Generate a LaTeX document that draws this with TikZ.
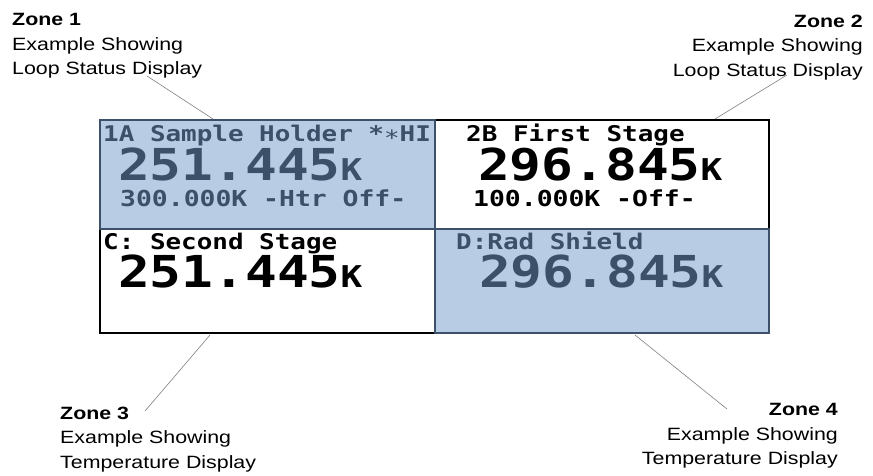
\documentclass[tikz,border=0pt]{standalone}
\usepackage{fontspec}
\setmainfont{Liberation Sans}[FakeStretch=1.2]
\newfontfamily\lcdfont{DejaVu Sans Mono}[FakeStretch=1.2]
\definecolor{lcdblue}{RGB}{184,204,228}
\definecolor{lcdslate}{RGB}{60,80,105}
\tikzset{
	zonefill/.style={fill=lcdblue, draw=lcdslate, line width=1.5pt},
	lcdtitle/.style={anchor=base west, inner sep=0pt, font=\lcdfont\bfseries\fontsize{21.6}{21.6}\selectfont},
	lcdbig/.style={anchor=base west, inner sep=0pt, font=\lcdfont\bfseries\fontsize{44}{44}\selectfont},
	lcdline/.style={anchor=base west, inner sep=0pt, font=\lcdfont\bfseries\fontsize{22}{22}\selectfont},
	callout/.style={inner sep=0pt, font=\fontsize{17.8}{24.5}\selectfont},
	leader/.style={draw=gray, line width=0.6pt}
}
\newcommand{\unitK}{{\fontsize{30}{30}\selectfont K}}

\begin{document}
\begin{tikzpicture}[x=1pt, y=-1pt]
			\useasboundingbox (0,0) rectangle (873,476);

			\draw[line width=2pt] (100,120) rectangle (769,333);
			\draw[zonefill] (100,120) rectangle (435,229);
			\draw[zonefill] (435,229) rectangle (769,333);

			\node[lcdtitle, text=lcdslate] (t1) at (103,142) {1A Sample Holder *{\mdseries ∗}HI};
			\node[lcdbig, text=lcdslate] (v1) at (118,180) {251.445\unitK};
			\node[lcdline, text=lcdslate] (s1) at (120,207) {300.000K -Htr Off-};

			\node[lcdtitle] (t2) at (466,142) {2B First Stage};
			\node[lcdbig] (v2) at (478,180) {296.845\unitK};
			\node[lcdline] (s2) at (473,207) {100.000K -Off-};

			\node[lcdtitle] (t3) at (103,249) {C: Second Stage};
			\node[lcdbig] (v3) at (118,287) {251.445\unitK};

			\node[lcdtitle, text=lcdslate] (t4) at (456,249) {D:Rad Shield};
			\node[lcdbig, text=lcdslate] (v4) at (479,287) {296.845\unitK};

			\node[callout, anchor=north west, align=left] (lab1) at (12,13.5)
				{\textbf{Zone 1}\\Example Showing\\Loop Status Display};
			\node[callout, anchor=north east, align=right] (lab2) at (863,14.5)
				{\textbf{Zone 2}\\Example Showing\\Loop Status Display};
			\node[callout, anchor=north west, align=left] (lab3) at (60,406.5)
				{\textbf{Zone 3}\\Example Showing\\Temperature Display};
			\node[callout, anchor=north east, align=right] (lab4) at (838,403.5)
				{\textbf{Zone 4}\\Example Showing\\Temperature Display};

			\coordinate (end1) at (147,76);
			\coordinate (tip1) at (213,119);
			\coordinate (end2) at (787,75);
			\coordinate (tip2) at (715,119);
			\coordinate (tip3) at (210,335);
			\coordinate (end3) at (145,411);
			\coordinate (tip4) at (635,335);
			\coordinate (end4) at (727,409);

			\draw[leader] (end1) -- (tip1);
			\draw[leader] (end2) -- (tip2);
			\draw[leader] (tip3) -- (end3);
			\draw[leader] (tip4) -- (end4);
		\end{tikzpicture}
\end{document}
